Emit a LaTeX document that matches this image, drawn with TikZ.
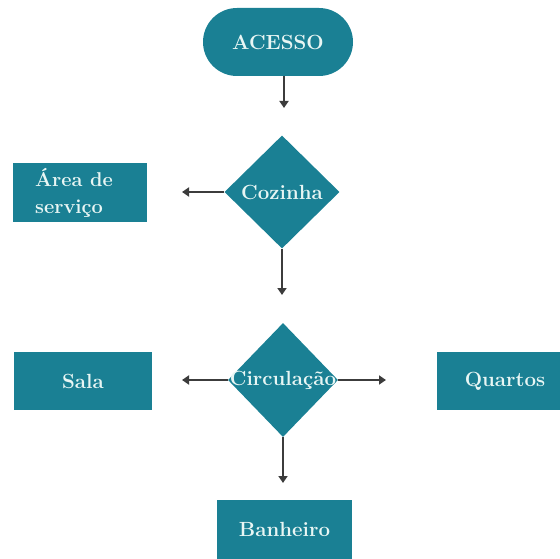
\documentclass[tikz,border=0pt]{standalone}
\usetikzlibrary{shapes.geometric,arrows.meta}
\definecolor{teal1}{RGB}{26,128,148}
\definecolor{txtc}{RGB}{232,246,244}
\definecolor{arr}{RGB}{60,60,60}
\begin{document}
\begin{tikzpicture}[x=1pt,y=-1pt,
  txt/.style={text=txtc,font=\fontsize{20.5}{24}\selectfont\bfseries,inner sep=0pt},
  box/.style={fill=teal1,draw=none,inner sep=0pt},
  dia/.style={diamond,fill=teal1,draw=none,inner sep=0pt},
  conn/.style={draw=arr,line width=2pt,-{Triangle[length=7pt,width=9pt]}}]
\useasboundingbox (0,0) rectangle (560,559);
% nodes
\node[box,rounded corners=34pt,minimum width=150pt,minimum height=68pt,txt] (acesso) at (278,42) {ACESSO};
\node[dia,minimum width=115pt,minimum height=113pt] (coz) at (282,192) {};
\node[txt] (cozt) at (coz.center) {Cozinha};
\node[box,minimum width=134pt,minimum height=59pt] (area) at (80,192.5) {};
\node[txt,font=\fontsize{20}{27}\selectfont\bfseries,align=left] (areat) at (74,192.5) {Área de\\serviço};
\node[dia,minimum width=110pt,minimum height=114pt] (circ) at (283,380) {};
\node[txt] (circt) at (circ.center) {Circulação};
\node[box,minimum width=138pt,minimum height=58pt,txt] (sala) at (83,381) {Sala};
\node[box,minimum width=123pt,minimum height=58pt] (quartos) at (498.5,381) {};
\node[txt] (quartost) at (505,381) {Quartos};
\node[box,minimum width=135pt,minimum height=59pt,txt] (banh) at (284.5,529.5) {Banheiro};
% free ends
\coordinate (e1) at (284,108);
\coordinate (e2) at (182,192);
\coordinate (e3) at (282,295);
\coordinate (e4) at (182,380);
\coordinate (e5) at (386,380);
\coordinate (e6) at (283,483);
% connectors
\draw[conn] (acesso.south -| e1) -- (e1);
\draw[conn] (coz.west) -- (e2);
\draw[conn] (coz.south) -- (e3);
\draw[conn] (circ.west) -- (e4);
\draw[conn] (circ.east) -- (e5);
\draw[conn] (circ.south) -- (e6);
\end{tikzpicture}
\end{document}
